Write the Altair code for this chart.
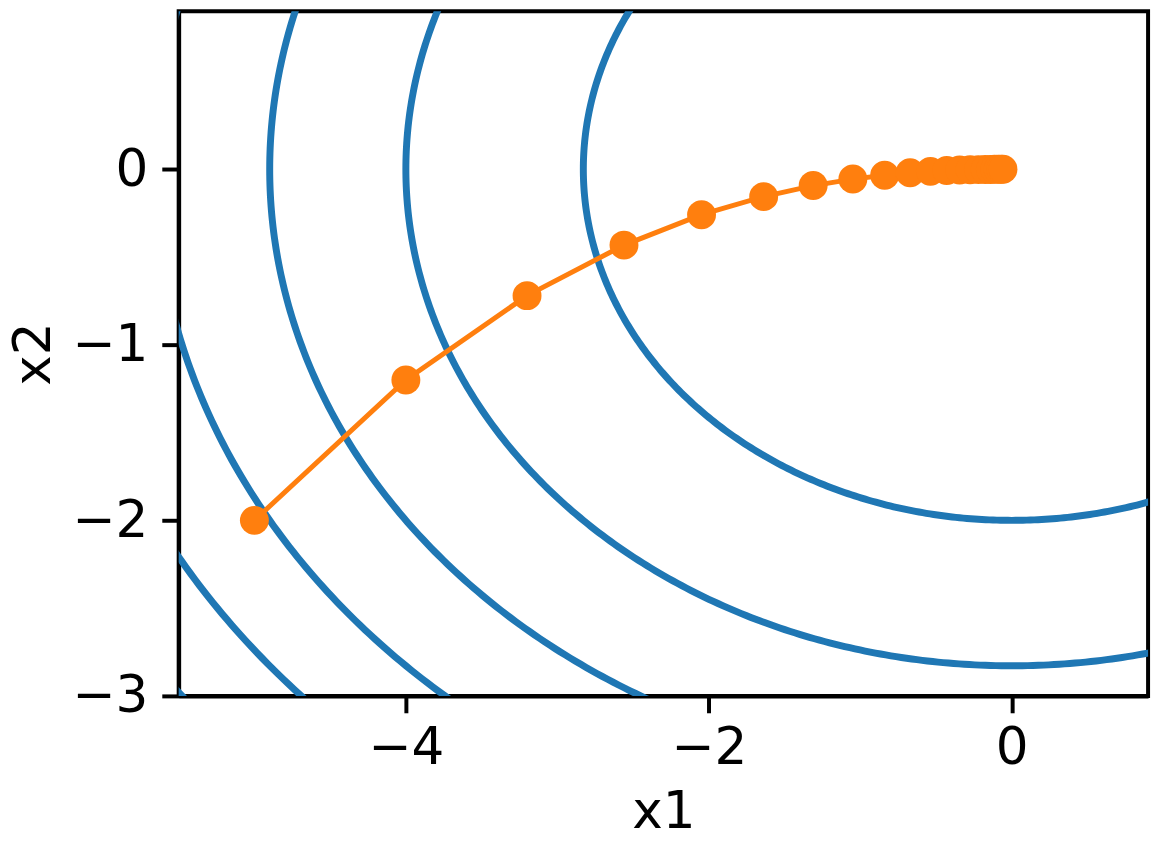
import numpy as np
import pandas as pd
import altair as alt

# contour levels of f(x1, x2) = x1^2 + 2*x2^2
levels = [8, 16, 24, 32, 40, 48]
coef_x1 = 1.0
coef_x2 = 2.0

# gradient-descent trajectory
traj_x1 = [-5.0, -4.0, -3.2, -2.56, -2.048, -1.638, -1.311, -1.049, -0.839, -0.671,
           -0.537, -0.429, -0.344, -0.275, -0.220, -0.176, -0.141, -0.113, -0.090,
           -0.072, -0.058]
traj_x2 = [-2.0, -1.2, -0.72, -0.432, -0.259, -0.156, -0.093, -0.056, -0.034, -0.020,
           -0.012, -0.007, -0.004, -0.003, -0.002, -0.001, -0.001, 0.0, 0.0, 0.0, 0.0]

x_ticks = [-4, -2, 0]
y_ticks = [-3, -2, -1, 0]
x_domain = [-5.5, 0.9]
y_domain = [-3.0, 0.9]

rows = []
t = np.linspace(0, 2 * np.pi, 721)
for lv in levels:
    a = np.sqrt(lv / coef_x1)
    b = np.sqrt(lv / coef_x2)
    for i, tt in enumerate(t):
        rows.append({"level": lv, "i": i, "x1": a * np.cos(tt), "x2": b * np.sin(tt)})
contours = pd.DataFrame(rows)

traj = pd.DataFrame({"x1": traj_x1, "x2": traj_x2, "k": list(range(len(traj_x1)))})

FONT = "DejaVu Sans"
FS = 52

xscale = alt.Scale(domain=x_domain, nice=False, zero=False)
yscale = alt.Scale(domain=y_domain, nice=False, zero=False)

xaxis = alt.Axis(values=x_ticks, title="x1", grid=False, tickSize=17, tickWidth=4,
                 tickColor="black", domainColor="black", domainWidth=4,
                 labelFontSize=FS, titleFontSize=FS, labelFont=FONT, titleFont=FONT,
                 labelColor="black", titleColor="black", titleFontWeight="normal",
                 labelPadding=10, titlePadding=14, format="d")
yaxis = alt.Axis(values=y_ticks, title="x2", grid=False, tickSize=17, tickWidth=4,
                 tickColor="black", domainColor="black", domainWidth=4,
                 labelFontSize=FS, titleFontSize=FS, labelFont=FONT, titleFont=FONT,
                 labelColor="black", titleColor="black", titleFontWeight="normal",
                 labelPadding=14, titlePadding=12, format="d")

contour_layer = alt.Chart(contours).mark_line(
    color="#1f77b4", strokeWidth=7, clip=True
).encode(
    x=alt.X("x1:Q", scale=xscale, axis=xaxis),
    y=alt.Y("x2:Q", scale=yscale, axis=yaxis),
    detail="level:N",
    order="i:Q",
)

traj_line = alt.Chart(traj).mark_line(
    color="#ff7f0e", strokeWidth=5, clip=True
).encode(
    x=alt.X("x1:Q", scale=xscale),
    y=alt.Y("x2:Q", scale=yscale),
    order="k:Q",
)

traj_pts = alt.Chart(traj).mark_circle(
    color="#ff7f0e", size=850, opacity=1, clip=True
).encode(
    x=alt.X("x1:Q", scale=xscale),
    y=alt.Y("x2:Q", scale=yscale),
)

chart = alt.layer(contour_layer, traj_line, traj_pts).properties(
    width=977, height=690,
    autosize=alt.AutoSizeParams(type="none"),
    padding={"left": 172, "top": 0, "right": 10, "bottom": 150},
).configure_view(stroke="black", strokeWidth=4)

chart.save("out.html", embed_options={"renderer": "svg", "actions": False})
